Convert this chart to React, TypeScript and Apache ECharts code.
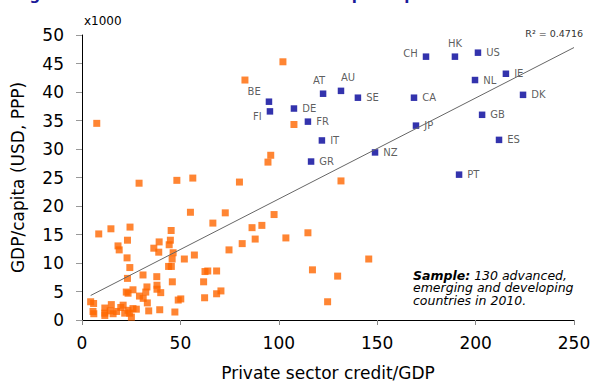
import React, { useEffect, useRef } from "react";
import * as echarts from "echarts";

// Emerging & developing economies: private sector credit (% of GDP), GDP per capita (thousand USD PPP)
const emergingCredit = [
  7.5, 82.8, 102.1, 107.7, 95.9, 94.5, 131.6, 80.0, 56.3, 48.2, 29.0, 55.1, 72.8, 97.6, 66.5, 86.4,
  91.4, 24.4, 14.7, 8.5, 45.3, 114.8, 88.0, 103.6, 81.4, 74.7, 23.1, 39.2, 44.9, 44.3, 36.5, 18.3,
  18.9, 39.0, 46.3, 57.1, 45.8, 52.0, 22.9, 145.7, 24.3, 44.0, 45.4, 62.5, 63.9, 68.4, 117.1, 129.9,
  23.1, 31.0, 38.0, 45.9, 61.8, 38.1, 38.1, 40.0, 70.6, 68.4, 62.3, 124.8, 33.0, 32.4, 29.2, 31.1,
  33.2, 22.5, 23.4, 25.9, 48.9, 50.2, 4.4, 5.9, 5.6, 6.0, 11.6, 11.6, 11.6, 14.9, 14.3, 15.8,
  17.6, 19.7, 20.9, 21.7, 23.4, 24.2, 25.1, 25.9, 27.6, 33.9, 39.5, 47.2,
];
const emergingGdp = [
  34.5, 42.1, 45.3, 34.3, 28.9, 27.7, 24.4, 24.2, 24.9, 24.5, 24.0, 18.9, 18.8, 18.5, 17.0, 16.2,
  16.6, 16.3, 16.0, 15.1, 15.7, 15.3, 14.2, 14.4, 13.4, 12.3, 14.0, 13.7, 14.0, 13.2, 12.6, 13.0,
  12.3, 11.9, 11.8, 11.4, 10.7, 10.7, 10.9, 10.7, 9.2, 9.4, 9.4, 8.5, 8.6, 8.6, 8.8, 7.7,
  7.3, 7.9, 7.6, 6.7, 6.7, 6.1, 5.4, 4.8, 5.1, 4.6, 3.9, 3.2, 5.8, 4.9, 4.2, 3.8,
  3.0, 4.9, 4.7, 5.3, 3.5, 3.7, 3.2, 2.9, 1.5, 1.1, 2.1, 1.2, 0.8, 2.7, 1.6, 1.1,
  1.5, 2.2, 2.6, 1.2, 1.7, 1.2, 0.5, 2.0, 1.9, 1.6, 1.8, 1.4,
];

// Advanced economies
const advancedCodes = [
  "BE", "FI", "DE", "AT", "AU", "SE", "FR", "IT", "GR", "NZ", "CA",
  "JP", "CH", "HK", "US", "NL", "IE", "DK", "GB", "ES", "PT",
];
const advancedCredit = [
  95.0, 95.5, 107.7, 122.5, 131.6, 140.2, 114.8, 121.9, 116.4, 148.9, 168.7,
  169.7, 174.8, 189.5, 201.2, 199.7, 215.4, 224.1, 203.3, 211.9, 191.6,
];
const advancedGdp = [
  38.3, 36.6, 37.1, 39.7, 40.2, 39.0, 34.8, 31.5, 27.8, 29.4, 39.0,
  34.1, 46.2, 46.2, 46.9, 42.1, 43.2, 39.5, 36.0, 31.6, 25.5,
];

// Linear trend line end points
const trendCredit = [4.4, 250];
const trendGdp = [4.3, 47.8];

const yTickLabels = ["0", "5", "10", "15", "20", "25", "30", "35", "40", "45", "50"];
const xTickLabels = ["0", "50", "100", "150", "200", "250"];

const rSquaredText = "R² = 0.4716";
const unitText = "x1000";
const titleText = "Figure 1: Private sector credit and GDP per capita";

// label placement (style only)
const labelPlacement: Record<string, { position: string; offset?: number[] }> = {
  BE: { position: "left", offset: [0, -10] },
  FI: { position: "left", offset: [0, 5] },
  CH: { position: "left", offset: [0, -3] },
  HK: { position: "top" },
  AT: { position: "top", offset: [-4, 0] },
  AU: { position: "top", offset: [7, 0] },
};

const FONT = "DejaVu Sans";

export default function App() {
  const ref = useRef<HTMLDivElement>(null);

  useEffect(() => {
    document.body.style.margin = "0";
    if (!ref.current) return;
    const chart = echarts.init(ref.current, undefined, { renderer: "svg" });

    const emergingData = emergingCredit.map((x, i) => [x, emergingGdp[i]]);
    const advancedData = advancedCodes.map((code, i) => {
      const p = labelPlacement[code] || { position: "right" };
      return {
        name: code,
        value: [advancedCredit[i], advancedGdp[i]],
        label: { position: p.position, offset: p.offset || [0, 0] },
      };
    });
    const trendData = trendCredit.map((x, i) => [x, trendGdp[i]]);

    const noteStyle = {
      fontSize: 12.5,
      fontStyle: "italic",
      fontFamily: FONT,
      fill: "#000",
      lineHeight: 12.5,
    };

    chart.setOption({
      animation: false,
      textStyle: { fontFamily: FONT },
      grid: { left: 82, right: 18, top: 35, bottom: 63, outerBoundsMode: "none" },
      xAxis: {
        type: "value",
        min: 0,
        max: 250,
        interval: 50,
        name: "Private sector credit/GDP",
        nameLocation: "middle",
        nameGap: 44,
        nameTextStyle: { fontSize: 17, color: "#000", fontFamily: FONT },
        axisLine: { show: true, lineStyle: { color: "#000", width: 1 } },
        axisTick: { show: true, length: 5, lineStyle: { color: "#888" } },
        axisLabel: {
          fontSize: 17,
          color: "#000",
          margin: 14,
          fontFamily: FONT,
          formatter: (v: number) => xTickLabels[Math.round(v / 50)] ?? String(v),
        },
        splitLine: { show: false },
      },
      yAxis: {
        type: "value",
        min: 0,
        max: 50,
        interval: 5,
        name: "GDP/capita (USD, PPP)",
        nameLocation: "middle",
        nameGap: 56,
        nameTextStyle: { fontSize: 17, color: "#000", fontFamily: FONT },
        axisLine: { show: true, lineStyle: { color: "#000", width: 1 } },
        axisTick: { show: true, length: 6, lineStyle: { color: "#999" } },
        axisLabel: {
          fontSize: 17,
          color: "#000",
          margin: 18,
          fontFamily: FONT,
          formatter: (v: number) => yTickLabels[Math.round(v / 5)] ?? String(v),
        },
        splitLine: { show: false },
      },
      series: [
        {
          type: "scatter",
          name: "Emerging",
          symbol: "rect",
          symbolSize: 7,
          itemStyle: { color: "#FF6600" },
          data: emergingData,
          z: 2,
        },
        {
          type: "scatter",
          name: "Advanced",
          symbol: "rect",
          symbolSize: 6.5,
          itemStyle: { color: "#000099" },
          data: advancedData,
          label: {
            show: true,
            formatter: "{b}",
            fontSize: 10,
            color: "#333",
            fontFamily: FONT,
            distance: 5,
          },
          z: 3,
        },
        {
          type: "line",
          name: "Trend",
          data: trendData,
          symbol: "none",
          lineStyle: { color: "#666", width: 1 },
          z: 4,
        },
      ],
      graphic: [
        {
          type: "text",
          x: 14,
          y: 2,
          style: {
            text: titleText,
            fontSize: 15,
            fontWeight: "bold",
            fontFamily: FONT,
            fill: "#1a1a99",
            verticalAlign: "bottom",
            align: "left",
          },
        },
        {
          type: "text",
          x: 84,
          y: 21,
          style: {
            text: unitText,
            fontSize: 12,
            fontFamily: FONT,
            fill: "#000",
            verticalAlign: "middle",
            align: "left",
          },
        },
        {
          type: "text",
          x: 583,
          y: 33,
          style: {
            text: rSquaredText,
            fontSize: 9.5,
            fontFamily: FONT,
            fill: "#333",
            verticalAlign: "middle",
            align: "right",
          },
        },
        {
          type: "text",
          x: 413,
          y: 269,
          style: {
            text: "{b|Sample:}{n| 130 advanced,}\n{n|emerging and developing}\n{n|countries in 2010.}",
            ...noteStyle,
            verticalAlign: "top",
            align: "left",
            rich: {
              b: { ...noteStyle, fontWeight: "bold" },
              n: { ...noteStyle },
            },
          },
        },
      ],
    });

    return () => chart.dispose();
  }, []);

  return <div ref={ref} style={{ width: 592, height: 383 }} />;
}
